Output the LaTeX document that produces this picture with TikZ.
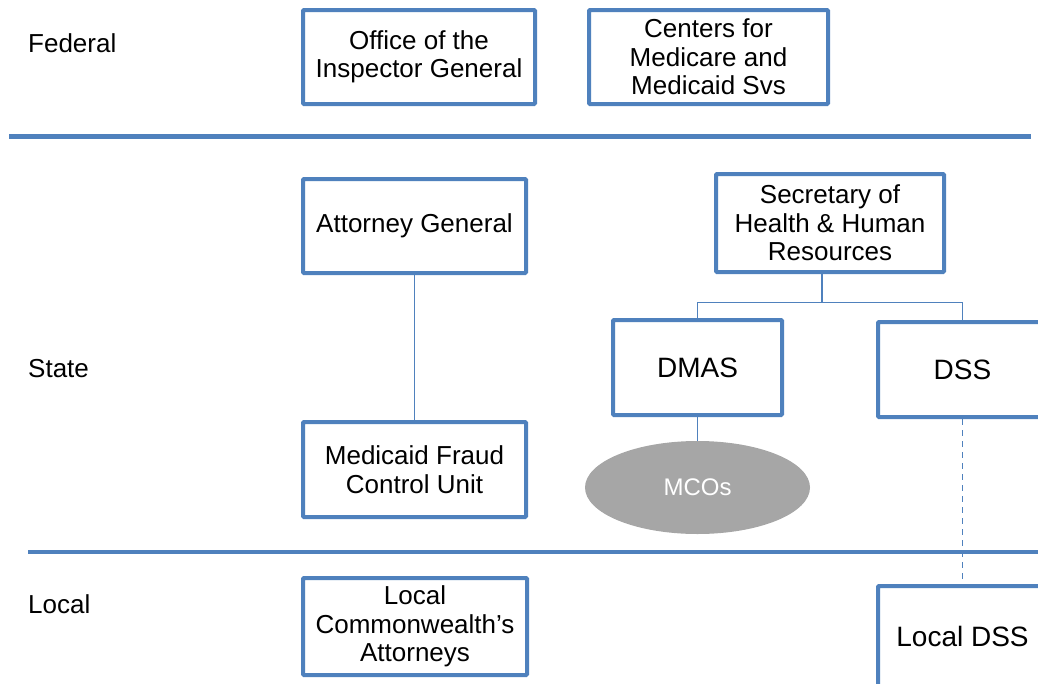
\documentclass[tikz,border=0pt]{standalone}
\usepackage{fontspec}
\setmainfont{Liberation Sans}
\usetikzlibrary{shapes.geometric}
\definecolor{boxBlue}{HTML}{4F81BD}
\definecolor{ovalGray}{HTML}{A6A6A6}

\begin{document}
\begin{tikzpicture}
[x=1pt,y=-1pt,
  every node/.style={inner sep=0pt,align=center,font=\fontsize{26}{28.5}\selectfont},%
  boxDecorate/.style={rectangle,draw=boxBlue,line width=4pt,fill=white,rounded corners=1pt},
  bigText/.style={font=\fontsize{28}{30}\selectfont},
  ovalDecorate/.style={ellipse,fill=ovalGray,text=white,font=\fontsize{24}{26}\selectfont},
  levelText/.style={anchor=west},
  sepDecorate/.style={draw=boxBlue,line width=4.5pt},
  lineDecorate/.style={-,draw=boxBlue,line width=1.3pt},
  dashLine/.style={dash pattern=on 6pt off 5pt}]
\useasboundingbox (0,0) rectangle (1038,683);

% levels
\node[levelText] (federal) at (28,43) {Federal};
\node[levelText] (state) at (28,369) {State};
\node[levelText] (local) at (28,604) {Local};
\draw[sepDecorate] (9,136.5) -- (1031,136.5);
\draw[sepDecorate] (28,552) -- (1038,552);

% federal
\node[boxDecorate,minimum width=232,minimum height=94] (oig) at (419,57)
  {Office of the\\Inspector General};
\node[boxDecorate,minimum width=239,minimum height=94] (cms) at (708.5,57)
  {Centers for\\Medicare and\\Medicaid Svs};

% state
\node[boxDecorate,minimum width=223,minimum height=94] (ag) at (414.5,226)
  {Attorney General};
\node[boxDecorate,minimum width=223,minimum height=95] (mfcu) at (414.5,469.5)
  {Medicaid Fraud\\Control Unit};
\node[boxDecorate,minimum width=228,minimum height=98] (shhr) at (830,223)
  {Secretary of\\Health \& Human\\Resources};
\node[boxDecorate,bigText,minimum width=169,minimum height=95] (dmas) at (697.5,367.5)
  {DMAS};
\node[boxDecorate,bigText,minimum width=169,minimum height=95] (dss) at (962.5,369.5)
  {DSS};
\node[ovalDecorate,minimum width=225,minimum height=93] (mcos) at (697.5,487.5)
  {MCOs};

% local
\node[boxDecorate,minimum width=224,minimum height=97] (lca) at (415,626.5)
  {Local\\Commonwealth’s\\Attorneys};
\node[boxDecorate,bigText,minimum width=169,minimum height=101] (ldss) at (962.5,636.5)
  {Local DSS};

\coordinate (fork) at (822,302.5);
\draw[lineDecorate] (fork |- shhr.south) -- (fork);
\draw[lineDecorate] (dmas.north) |- (fork) -| (dss.north);
\path
\foreach \startNode/\endNode/\pattern in {
  ag/mfcu/solid, dmas/mcos/solid, dss/ldss/dashLine}
{
  (\startNode) edge[lineDecorate,\pattern] (\endNode)
};
\end{tikzpicture}
\end{document}
